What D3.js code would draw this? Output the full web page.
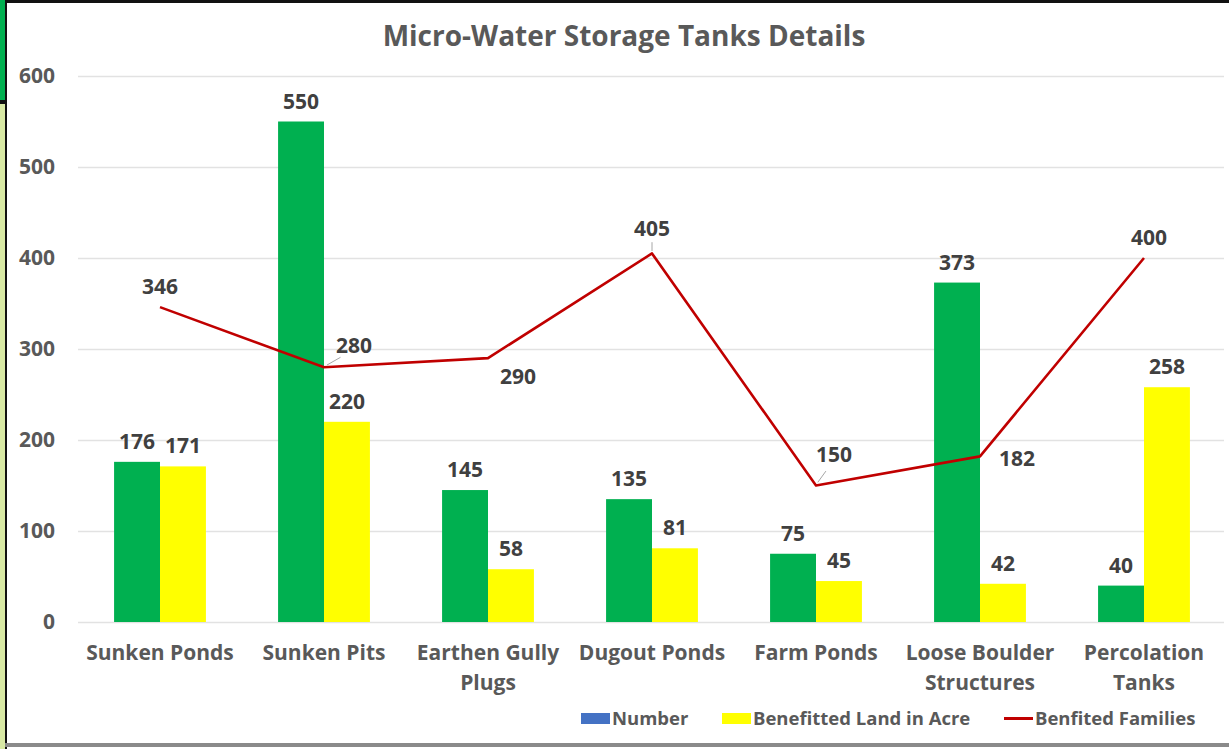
<!DOCTYPE html>
<html>
<head>
<meta charset="utf-8">
<script src="https://cdn.jsdelivr.net/npm/d3@7"></script>
<style>
  body { margin: 0; background: #fff; }
  svg { display: block; font-family: "Open Sans", Lato, sans-serif; }
  .grid line { stroke: #e2e2e2; stroke-width: 1.3; }
  .tick-label { fill: #595959; font-weight: 700; font-size: 21px; }
  .val { fill: #404040; font-weight: 700; font-size: 21px; }
</style>
</head>
<body>
<div id="chart"></div>
<script>
var categories = ['Sunken Ponds', 'Sunken Pits', 'Earthen Gully Plugs', 'Dugout Ponds',
  'Farm Ponds', 'Loose Boulder Structures', 'Percolation Tanks']
var number   = [176, 550, 145, 135, 75, 373, 40]
var land     = [171, 220, 58, 81, 45, 42, 258]
var families = [346, 280, 290, 405, 150, 182, 400]
var yTicks   = [0, 100, 200, 300, 400, 500, 600]

// where excel put each line label, relative to its point (dx, dy) + whether it drew a leader
var famLabelOffset = [
  {dx: 0, dy: -21}, {dx: 30, dy: -22, leader: true}, {dx: 30, dy: 18},
  {dx: 0, dy: -25, leader: true}, {dx: 18, dy: -32, leader: true},
  {dx: 37, dy: 2}, {dx: 5, dy: -21}
]

var W = 1229, H = 749
var svg = d3.select('#chart').append('svg').attr('width', W).attr('height', H)

// frame bits around the chart
svg.append('rect').attr('x', 0).attr('y', 0).attr('width', 5).attr('height', 101).attr('fill', '#00b050')
svg.append('rect').attr('x', 0).attr('y', 104).attr('width', 5).attr('height', H - 104).attr('fill', '#d8e9a4')
svg.append('rect').attr('x', 0).attr('y', 100).attr('width', 7).attr('height', 4).attr('fill', '#111')
svg.append('rect').attr('x', 5).attr('y', 0).attr('width', 2).attr('height', H).attr('fill', '#111')
svg.append('rect').attr('x', 5).attr('y', 0).attr('width', W - 5).attr('height', 3).attr('fill', '#111')
svg.append('rect').attr('x', 5).attr('y', 743).attr('width', W - 5).attr('height', 4).attr('fill', '#8a8a8a')

var x = d3.scaleBand().domain(categories).range([78, 1226]).paddingInner(0.44).paddingOuter(0.22)
var x1 = d3.scaleBand().domain(['number', 'land']).range([0, x.bandwidth()])
var y = d3.scaleLinear().domain([0, 600]).range([622, 76])

svg.append('text')
  .attr('x', 624).attr('y', 46).attr('text-anchor', 'middle')
  .attr('fill', '#595959').attr('font-weight', 700).attr('font-size', 28)
  .text('Micro-Water Storage Tanks Details')

// gridlines
svg.append('g').attr('class', 'grid')
  .selectAll('line').data(yTicks).join('line')
  .attr('x1', 78).attr('x2', 1224)
  .attr('y1', d => Math.round(y(d)) + 0.5).attr('y2', d => Math.round(y(d)) + 0.5)

svg.append('g').selectAll('text').data(yTicks).join('text')
  .attr('class', 'tick-label')
  .attr('x', 55).attr('y', d => y(d) + 7).attr('text-anchor', 'end')
  .text(d => d)

// bars
var series = [
  {key: 'number', values: number, color: '#00b050'},
  {key: 'land', values: land, color: '#ffff00'}
]
series.forEach(function(s){
  var g = svg.append('g')
  g.selectAll('rect').data(categories).join('rect')
    .attr('x', d => x(d) + x1(s.key))
    .attr('width', x1.bandwidth())
    .attr('y', (d, i) => y(s.values[i]))
    .attr('height', (d, i) => y(0) - y(s.values[i]))
    .attr('fill', s.color)
  g.selectAll('text').data(categories).join('text')
    .attr('class', 'val')
    .attr('x', d => x(d) + x1(s.key) + x1.bandwidth() / 2)
    .attr('y', (d, i) => y(s.values[i]) - 13)
    .attr('text-anchor', 'middle')
    .text((d, i) => s.values[i])
})

// families line, points sit on category centre
var cx = d => x(d) + x.bandwidth() / 2
var line = d3.line().x(d => cx(d)).y((d, i) => y(families[i]))
svg.append('path')
  .attr('d', line(categories))
  .attr('fill', 'none').attr('stroke', '#c00000').attr('stroke-width', 2.6)
  .attr('stroke-linejoin', 'round')

var famG = svg.append('g')
categories.forEach(function(c, i){
  var o = famLabelOffset[i]
  var px = cx(c), py = y(families[i])
  if (o.leader) {
    famG.append('line')
      .attr('x1', px + o.dx * 0.1).attr('y1', py + o.dy * 0.1)
      .attr('x2', px + o.dx * 0.55).attr('y2', py + o.dy * 0.45)
      .attr('stroke', '#a6a6a6').attr('stroke-width', 1)
  }
  famG.append('text')
    .attr('class', 'val')
    .attr('x', px + o.dx).attr('y', py + o.dy + 8)
    .attr('text-anchor', 'middle')
    .text(families[i])
})

// category labels, wrapped like excel does
var catG = svg.append('g')
categories.forEach(function(c){
  var t = catG.append('text').attr('class', 'tick-label').attr('text-anchor', 'middle')
  var words = c.split(' '), lines = [], cur = ''
  words.forEach(function(w){
    var test = cur ? cur + ' ' + w : w
    t.text(test)
    if (t.node().getComputedTextLength() > 160 && cur) { lines.push(cur); cur = w }
    else cur = test
  })
  lines.push(cur)
  t.text(null)
  lines.forEach(function(l, k){
    t.append('tspan').attr('x', cx(c)).attr('y', 660 + k * 30).text(l)
  })
})

// legend
var legend = [
  {label: 'Number', color: '#4472c4', type: 'rect', x: 581},
  {label: 'Benefitted Land in Acre', color: '#ffff00', type: 'rect', x: 722},
  {label: 'Benfited Families', color: '#c00000', type: 'line', x: 1004}
]
var lg = svg.append('g')
legend.forEach(function(d){
  if (d.type == 'rect') lg.append('rect').attr('x', d.x).attr('y', 713).attr('width', 29).attr('height', 11).attr('fill', d.color)
  else lg.append('line').attr('x1', d.x).attr('x2', d.x + 29).attr('y1', 718.5).attr('y2', 718.5).attr('stroke', d.color).attr('stroke-width', 3)
  lg.append('text').attr('x', d.x + 31).attr('y', 725)
    .attr('fill', '#595959').attr('font-weight', 700).attr('font-size', 18.5)
    .text(d.label)
})
</script>
</body>
</html>
